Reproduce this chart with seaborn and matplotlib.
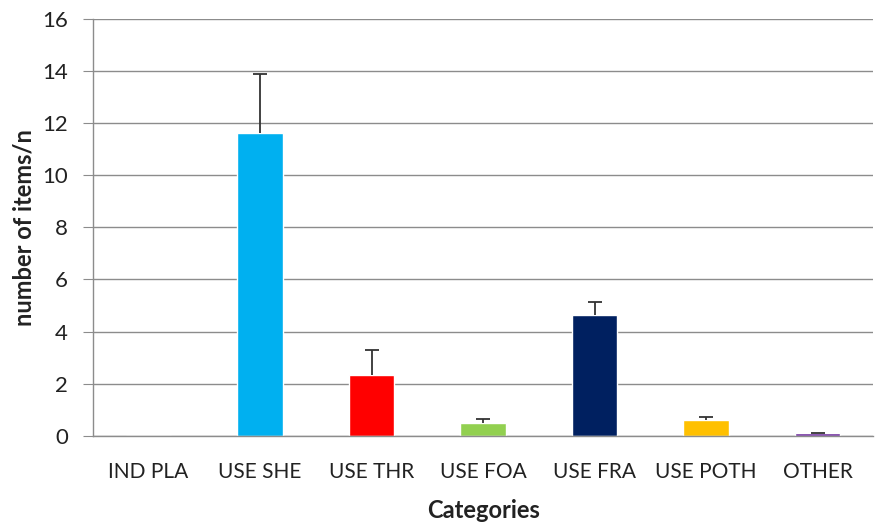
import seaborn as sns
import matplotlib.pyplot as plt
import pandas as pd
import numpy as np

categories = ['IND PLA', 'USE SHE', 'USE THR', 'USE FOA', 'USE FRA', 'USE POTH', 'OTHER']
means = [0.0, 11.6, 2.35, 0.5, 4.65, 0.6, 0.1]
errors = [0.0, 2.3, 0.95, 0.14, 0.47, 0.12, 0.02]
colors = ['#FFFFFF', '#00B0F0', '#FF0000', '#92D050', '#002060', '#FFC000', '#7030A0']

df = pd.DataFrame({'cat': categories, 'val': means})

sns.set_style('white')
plt.rcParams['font.family'] = ['Lato', 'DejaVu Sans']

fig = plt.figure(figsize=(8.76, 5.22), dpi=100)
ax = fig.add_axes([0.106, 0.165, 0.891, 0.799])

sns.barplot(data=df, x='cat', y='val', hue='cat', palette=colors,
            width=0.41, legend=False, ax=ax, saturation=1)

# only the upper half of the error bars, like in the original
x = np.arange(len(categories))
low = np.zeros(len(errors))
eb = ax.errorbar(x[1:], means[1:], yerr=[low[1:], errors[1:]], fmt='none',
                 ecolor='#333333', elinewidth=1.3, capsize=5, capthick=1.3)
eb[1][0].set_visible(False)  # lower caps

ax.set_ylim(0, 16)
ax.set_xlim(-0.5, len(categories) - 0.5)
ax.set_yticks(range(0, 17, 2))
ax.yaxis.grid(True, color='#8c8c8c', linewidth=1)
ax.set_axisbelow(True)

# tick marks sit between the categories
ax.set_xticks(np.arange(-0.5, len(categories)), minor=True)
ax.tick_params(axis='x', which='major', length=0, labelsize=15, pad=19, labelcolor='#222222')
ax.tick_params(axis='x', which='minor', length=6, color='#8c8c8c', direction='out')
ax.tick_params(axis='y', length=7, color='#8c8c8c', direction='out', labelsize=16,
               pad=11, left=True, labelcolor='#222222')

for s in ['top', 'right']:
    ax.spines[s].set_visible(False)
for s in ['left', 'bottom']:
    ax.spines[s].set_color('#8c8c8c')
    ax.spines[s].set_linewidth(1)

ax.set_xlabel('Categories', fontsize=17, fontweight='bold', labelpad=12, color='#222222')
ax.set_ylabel('number of items/n', fontsize=17, fontweight='bold', labelpad=5, color='#222222')

fig.savefig('out.png', dpi=100)
